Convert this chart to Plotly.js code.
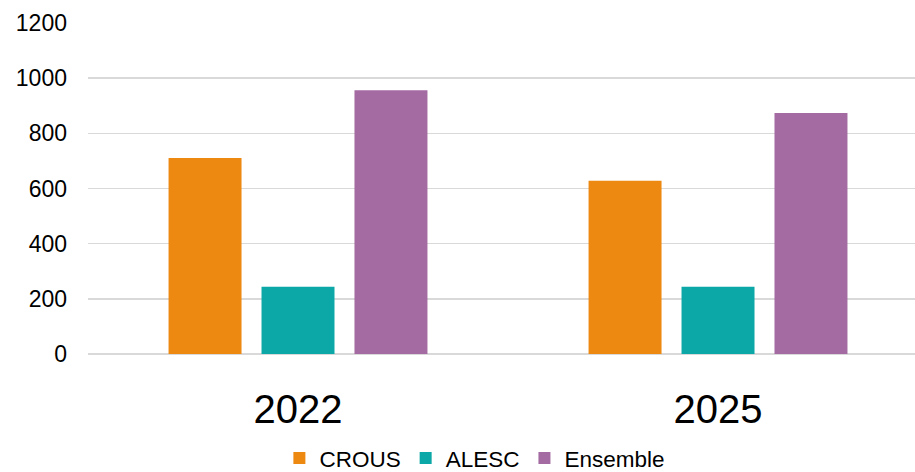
<!DOCTYPE html>
<html>
<head>
<meta charset="utf-8">
<script src="https://cdn.plot.ly/plotly-3.0.1.min.js"></script>
<style>html,body{margin:0;padding:0;background:#fff;}#chart{width:915px;height:472px;}</style>
</head>
<body>
<div id="chart"></div>
<script>
const categories = ["2022", "2025"];
const seriesNames = ["CROUS", "ALESC", "Ensemble"];
const crous = [711, 628];
const alesc = [244, 244];
const ensemble = [956, 874];
const yTicks = [0, 200, 400, 600, 800, 1000, 1200];
const colors = ["#ED8811", "#0BA8A7", "#A46AA2"];

const values = [crous, alesc, ensemble];
const traces = seriesNames.map((name, i) => ({
  type: "bar",
  name: name,
  x: categories,
  y: values[i],
  marker: {color: colors[i], line: {width: 0}},
  hoverinfo: "x+y+name"
}));

const layout = {
  width: 915,
  height: 472,
  margin: {l: 88, r: 0, t: 23, b: 118, autoexpand: false},
  paper_bgcolor: "#ffffff",
  plot_bgcolor: "#ffffff",
  font: {family: "Liberation Sans, Arial, sans-serif", color: "#000000"},
  barmode: "group",
  bargap: 0.336,
  bargroupgap: 0.215,
  showlegend: true,
  legend: {
    orientation: "h",
    xref: "container", yref: "paper",
    x: 0.519, xanchor: "center",
    y: -0.315, yanchor: "middle",
    font: {size: 22.5, color: "#000"},
    itemwidth: 30,
    traceorder: "normal"
  },
  xaxis: {
    type: "category",
    range: [-0.5, 1.469],
    showgrid: false,
    zeroline: false,
    showline: false,
    ticks: "",
    tickfont: {size: 40, color: "#000"},
    ticklabelstandoff: 28,
    fixedrange: true
  },
  yaxis: {
    range: [0, 1200],
    tickvals: yTicks,
    ticktext: yTicks.map(String),
    showgrid: true,
    gridcolor: "#D9D9D9",
    gridwidth: 1.5,
    zeroline: true,
    zerolinecolor: "#D9D9D9",
    zerolinewidth: 1.5,
    showline: false,
    ticks: "",
    tickfont: {size: 23, color: "#000"},
    ticklabelstandoff: 20,
    fixedrange: true
  }
};

Plotly.newPlot("chart", traces, layout, {displayModeBar: false, staticPlot: true});
</script>
</body>
</html>
